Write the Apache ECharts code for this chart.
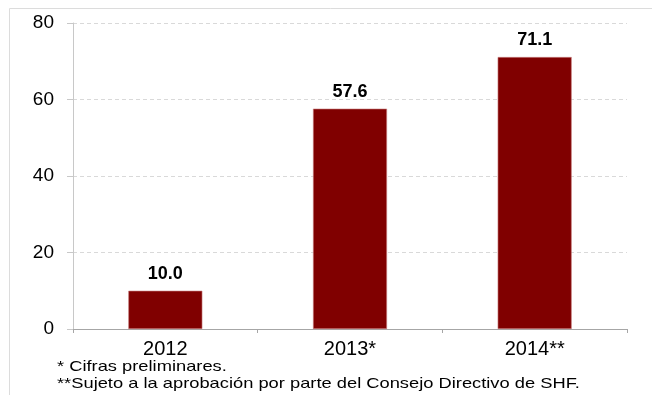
<!DOCTYPE html>
<html>
<head>
<meta charset="utf-8">
<script src="https://cdn.jsdelivr.net/npm/echarts@6/dist/echarts.min.js"></script>
<style>
  html, body { margin: 0; padding: 0; background: #fff; }
  #chart { width: 652px; height: 395px; }
</style>
</head>
<body>
<div id="chart"></div>
<script>
// Yearly values, one bar per year
const categories = ['2012', '2013*', '2014**'];
const values = [10.0, 57.6, 71.1];
const yTicks = [0, 20, 40, 60, 80];
const notes = ['* Cifras preliminares.', '**Sujeto a la aprobación por parte del Consejo Directivo de SHF.'];

const chart = echarts.init(document.getElementById('chart'), null, { renderer: 'canvas' });
const font = '"Liberation Sans", Arial, sans-serif';

chart.setOption({
  animation: false,
  backgroundColor: '#fff',
  graphic: [
    // thin frame along the top and left edges
    { type: 'line', shape: { x1: 9.5, y1: 8.5, x2: 652, y2: 8.5 }, style: { stroke: '#dcdcdc', lineWidth: 1 } },
    { type: 'line', shape: { x1: 9.5, y1: 8.5, x2: 9.5, y2: 395 }, style: { stroke: '#dcdcdc', lineWidth: 1 } },
    // footnotes, set in a slightly widened face
    { type: 'text', x: 57, y: 359, scaleX: 1.22, style: { text: notes[0], font: '15px ' + font, fill: '#000' } },
    { type: 'text', x: 57, y: 376, scaleX: 1.22, style: { text: notes[1], font: '15px ' + font, fill: '#000' } }
  ],
  grid: { left: 73, right: 25, top: 23, bottom: 66, containLabel: false },
  xAxis: {
    type: 'category',
    data: categories,
    axisLine: { lineStyle: { color: '#a6a6a6', width: 1 } },
    axisTick: { show: true, length: 4, lineStyle: { color: '#a6a6a6' } },
    axisLabel: { color: '#000', fontFamily: font, fontSize: 20, margin: 10 }
  },
  yAxis: {
    type: 'value',
    min: yTicks[0],
    max: yTicks[yTicks.length - 1],
    interval: 20,
    axisLine: { show: true, lineStyle: { color: '#c8c8c8' } },
    axisTick: { show: true, length: 6, lineStyle: { color: '#c8c8c8' } },
    axisLabel: { color: '#000', fontFamily: font, fontSize: 19, margin: 19 },
    splitLine: { show: true, lineStyle: { color: '#d9d9d9', type: [4, 3] } }
  },
  series: [{
    type: 'bar',
    data: values,
    barWidth: 74,
    itemStyle: { color: '#800000', borderColor: '#c78080', borderWidth: 0.6 },
    label: {
      show: true,
      position: 'top',
      distance: 8,
      formatter: p => p.value.toFixed(1),
      color: '#000',
      fontFamily: font,
      fontWeight: 'bold',
      fontSize: 18
    }
  }]
});
</script>
</body>
</html>
